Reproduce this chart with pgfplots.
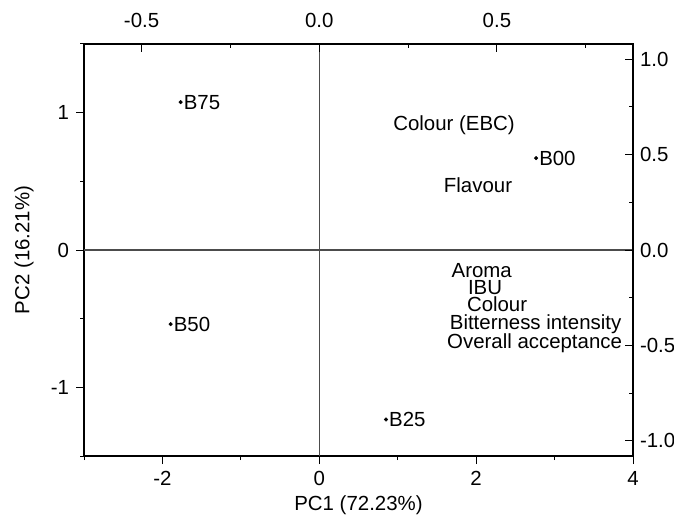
\documentclass[border=0pt]{standalone}
\usepackage{pgfplots}
\pgfplotsset{compat=1.18}
\usepackage{fontspec}
\setmainfont{Liberation Sans}
\usetikzlibrary{calc}
\begin{document}
\fontsize{20.5}{24}\selectfont
\begin{tikzpicture}
\begin{axis}[
  name=main,
  scale only axis, width=549bp, height=412bp,
  xmin=-3, xmax=4, ymin=-1.5, ymax=1.5,
  xtick={-2,0,2,4}, minor xtick={-3,-1,1,3},
  ytick={-1,0,1}, minor ytick={-1.5,-0.5,0.5,1.5},
  xtick pos=bottom, ytick pos=left,
  tick align=outside,
  major tick length=8bp, minor tick length=4bp,
  every tick/.style={black, line width=1bp},
  axis line style={black, line width=1.2bp},
  /pgf/number format/assume math mode=true,
  xlabel={PC1 (72.23\%)}, ylabel={PC2 (16.21\%)},
  xlabel style={at={(axis description cs:0.5,-0.119)}, anchor=center},
  ylabel style={at={(axis description cs:-0.1093,0.5)}, anchor=center},
  clip=false,
]
\addplot[black!70, line width=1.2bp] coordinates {(0,-1.5) (0,1.5)};
\addplot[black!70, line width=1.2bp] coordinates {(-3,0) (4,0)};
\addplot[only marks, mark=*, mark size=1.8bp, black,
  nodes near coords, point meta=explicit symbolic,
  nodes near coords style={anchor=west, inner sep=3bp, text=black}]
  table[meta=label] {
x y label
-1.768 1.077 B75
2.764 0.669 B00
-1.895 -0.540 B50
0.851 -1.234 B25
};
\begin{scope}[every node/.style={inner sep=0pt}]
\node at (axis cs:1.718,0.907) {Colour (EBC)};
\node at (axis cs:2.024,0.469) {Flavour};
\node at (axis cs:2.071,-0.151) {Aroma};
\node at (axis cs:2.114,-0.273) {IBU};
\node at (axis cs:2.267,-0.394) {Colour};
\node at (axis cs:2.758,-0.540) {Bitterness intensity};
\node at (axis cs:2.745,-0.680) {Overall acceptance};
\end{scope}
\end{axis}
\begin{axis}[
  scale only axis, width=549bp, height=412bp,
  xmin=-0.662, xmax=0.883, ymin=-1.08, ymax=1.08,
  axis x line*=top, axis y line*=right,
  xtick={-0.5,0,0.5}, minor xtick={-0.25,0.25,0.75},
  ytick={-1,-0.5,0,0.5,1}, minor ytick={-0.75,-0.25,0.25,0.75},
  tick align=inside,
  major tick length=8bp, minor tick length=4bp,
  every tick/.style={black, line width=1bp},
  axis line style={black, line width=1.2bp, -},
  /pgf/number format/assume math mode=true,
  /pgf/number format/fixed, /pgf/number format/fixed zerofill,
  /pgf/number format/precision=1,
  xticklabel style={yshift=9bp},
]
\addplot[draw=none] coordinates {(0,0)};
\end{axis}
\pgfresetboundingbox
\path ($(main.south west)+(-84bp,-63bp)$) rectangle ($(main.north east)+(41bp,44bp)$);
\end{tikzpicture}
\end{document}
